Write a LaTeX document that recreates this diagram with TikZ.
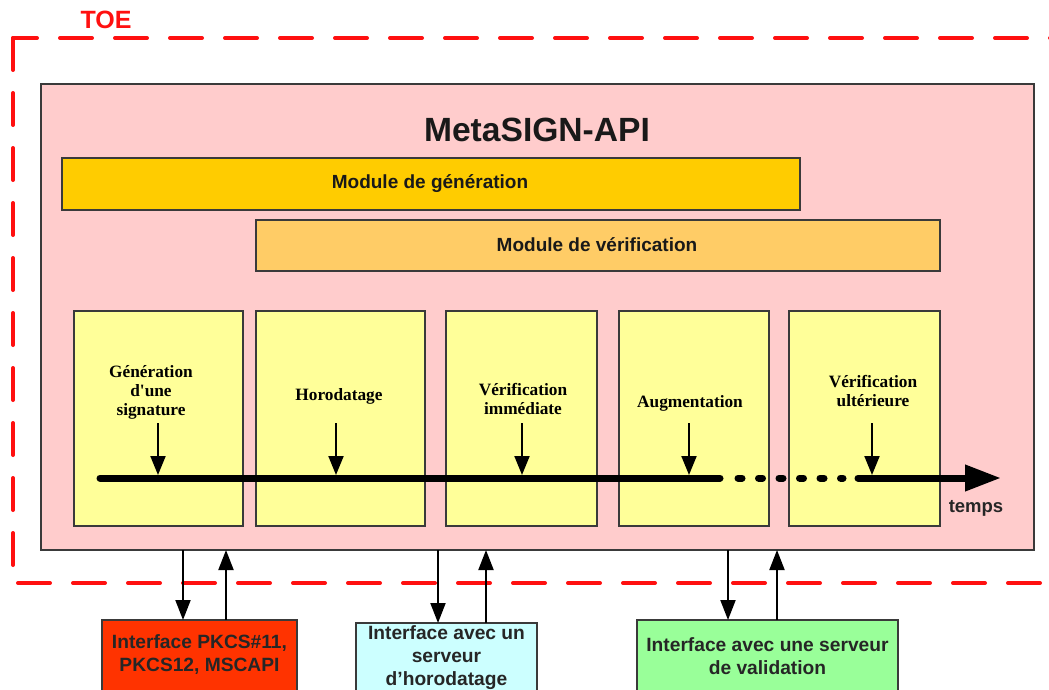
\documentclass[tikz,border=0pt]{standalone}
\usepackage{fontspec}
\setmainfont{Liberation Sans}
\newfontfamily\serifb{Liberation Serif}
\usetikzlibrary{arrows.meta}
\definecolor{toered}{HTML}{FF1010}
\definecolor{pinkbg}{HTML}{FFCCCC}
\definecolor{genfill}{HTML}{FFCC00}
\definecolor{verfill}{HTML}{FFCC66}
\definecolor{yelfill}{HTML}{FFFF99}
\definecolor{redfill}{HTML}{FF3300}
\definecolor{cyanfill}{HTML}{CCFFFF}
\definecolor{greenfill}{HTML}{99FF99}
\definecolor{edge}{HTML}{3A3A3A}
\begin{document}
\begin{tikzpicture}[x=1pt,y=-1pt,
  box/.style={draw=edge, line width=1.3pt, inner sep=0pt, outer sep=0pt},
  toeline/.style={toered, line width=4pt, line cap=round, dash pattern=on 32pt off 23pt},
  modtext/.style={font=\bfseries\fontsize{19}{22}\selectfont, text=black!90},
  steptext/.style={font=\serifb\bfseries\fontsize{17.3}{19}\selectfont, align=center, text=black},
  iftext/.style={font=\bfseries\fontsize{19.2}{23}\selectfont, align=center, text=black!85},
  smallarr/.style={line width=2pt, -{Triangle[length=19pt,width=15pt]}},
  bigarr/.style={line width=2pt, -{Triangle[length=20pt,width=15pt]}},
  tline/.style={line width=7pt}
]
\useasboundingbox (0,0) rectangle (1049,690);

% TOE boundary
\draw[toeline, dash phase=8pt] (13,38) -- (1070,38);
\draw[toeline] (13,38) -- (13,583) -- (1070,583);
\node[font=\bfseries\fontsize{25}{28}\selectfont, text=toered] (toe) at (106,20) {TOE};

% main box
\node[box, fill=pinkbg, minimum width=993pt, minimum height=466pt] (api) at (537.5,317) {};
\node[font=\bfseries\fontsize{33.6}{38}\selectfont, text=black!90] (title) at (537,130) {MetaSIGN-API};

% modules
\node[box, fill=genfill, minimum width=738pt, minimum height=52pt] (gen) at (431,184) {};
\node[modtext] (gentxt) at (430,184) {Module de génération};
\node[box, fill=verfill, minimum width=684pt, minimum height=51pt] (ver) at (598,245.5) {};
\node[modtext] (vertxt) at (597,245) {Module de vérification};

% step boxes
\node[box, fill=yelfill, minimum width=169pt, minimum height=215pt] (s1) at (158.5,418.5) {};
\node[box, fill=yelfill, minimum width=169pt, minimum height=215pt] (s2) at (340.5,418.5) {};
\node[box, fill=yelfill, minimum width=151pt, minimum height=215pt] (s3) at (521.5,418.5) {};
\node[box, fill=yelfill, minimum width=150pt, minimum height=215pt] (s4) at (694,418.5) {};
\node[box, fill=yelfill, minimum width=151pt, minimum height=215pt] (s5) at (864.5,418.5) {};

\node[steptext] (l1) at (151,392) {Génération\\d\textquotesingle une\\signature};
\node[steptext] (l2) at (339,396) {Horodatage};
\node[steptext] (l3) at (523,399) {Vérification\\immédiate};
\node[steptext] (l4) at (690,403) {Augmentation};
\node[steptext] (l5) at (873,391) {Vérification\\ultérieure};

% timeline
\coordinate (t0) at (100,478);
\coordinate (t1) at (158,478);
\coordinate (t2) at (336,478);
\coordinate (t3) at (522,478);
\coordinate (t4) at (689,478);
\coordinate (t5) at (872,478);
\coordinate (tA) at (720,478);
\coordinate (dA) at (738,478);
\coordinate (dB) at (843,478);
\coordinate (tB) at (858,478);
\coordinate (tE) at (1001,478);
\draw[tline, line cap=round] (t0) -- (tA);
\draw[line width=7pt, line cap=round, dash pattern=on 4pt off 16.5pt] (dA) -- (dB);
\draw[tline, line cap=round, -{Triangle[length=36pt,width=25pt]}] (tB) -- (tE);
\node[font=\bfseries\fontsize{18.5}{22}\selectfont, text=black!85] (temps) at (976,508) {temps};

\foreach \t in {t1,t2,t3,t4,t5}
  \draw[smallarr] ([yshift=55pt]\t) -- ([yshift=3pt]\t);

% interface boxes
\node[box, fill=redfill, minimum width=195pt, minimum height=90pt, anchor=north] (pk) at (199.5,620) {};
\node[iftext] (pktxt) at (199.5,655) {Interface PKCS\#11,\\PKCS12, MSCAPI};
\node[box, fill=cyanfill, minimum width=181pt, minimum height=90pt, anchor=north] (ts) at (446.5,623) {};
\node[iftext] (tstxt) at (446.5,658) {Interface avec un\\serveur\\d’horodatage};
\node[box, fill=greenfill, minimum width=261pt, minimum height=90pt, anchor=north] (va) at (767.5,620) {};
\node[iftext] (vatxt) at (767.5,656) {Interface avec une serveur\\de validation};

% interface arrows
\draw[bigarr] ([xshift=-16.5pt]pk.north |- api.south) -- ([xshift=-16.5pt]pk.north);
\draw[bigarr] ([xshift=26.5pt]pk.north) -- ([xshift=26.5pt]pk.north |- api.south);
\draw[bigarr] ([xshift=-8.5pt]ts.north |- api.south) -- ([xshift=-8.5pt]ts.north);
\draw[bigarr] ([xshift=39.5pt]ts.north) -- ([xshift=39.5pt]ts.north |- api.south);
\draw[bigarr] ([xshift=-39.5pt]va.north |- api.south) -- ([xshift=-39.5pt]va.north);
\draw[bigarr] ([xshift=9.5pt]va.north) -- ([xshift=9.5pt]va.north |- api.south);
\end{tikzpicture}
\end{document}
